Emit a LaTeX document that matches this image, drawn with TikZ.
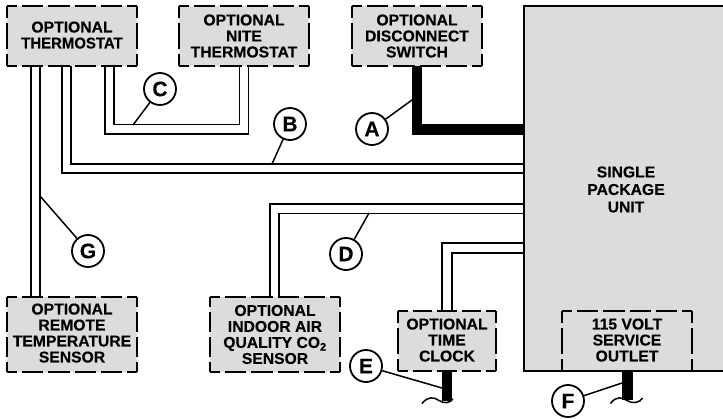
\documentclass[tikz,border=0pt]{standalone}
\usepackage{fontspec}
\setmainfont[BoldFeatures={FakeBold=0.25}]{Liberation Sans}
\definecolor{boxgray}{HTML}{DCDCDC}
\tikzset{
  x=1pt,y=-1pt,
  wire/.style={line width=1.5pt,draw=black},
  power/.style={line width=10.5pt,draw=black},
  leader/.style={line width=1.5pt,draw=black},
  tagc/.style={circle,draw=black,fill=white,line width=1.8pt,minimum size=32pt,inner sep=0pt,font=\fontsize{21}{21}\selectfont\bfseries},
  optbox/.style={fill=boxgray,inner sep=0pt,align=center,font=\fontsize{15.7}{16}\selectfont\bfseries},
  outletbox/.style={inner sep=0pt,align=center,font=\fontsize{15.7}{16}\selectfont\bfseries},
}
% one side of a dashed box: whole number of dashes, half a dash at each corner
\newcommand{\dashside}[2]{%
  \path (#1); \pgfgetlastxy{\ax}{\ay}%
  \path (#2); \pgfgetlastxy{\bx}{\by}%
  \pgfmathsetmacro{\sidelen}{veclen(\bx-\ax,\by-\ay)}%
  \pgfmathsetmacro{\sidenum}{max(1,round(\sidelen/26))}%
  \pgfmathsetmacro{\sideper}{\sidelen/\sidenum}%
  \pgfmathsetmacro{\sideon}{\sideper-5}%
  \pgfmathsetmacro{\sidehalf}{\sideon/2}%
  \draw[line width=2.2pt,line cap=butt,dash pattern=on \sideon pt off 5pt,dash phase=\sidehalf pt] (#1) -- (#2);}
\newcommand{\dashframe}[1]{%
  \dashside{#1.north west}{#1.north east}%
  \dashside{#1.north east}{#1.south east}%
  \dashside{#1.south east}{#1.south west}%
  \dashside{#1.south west}{#1.north west}}
\begin{document}
\begin{tikzpicture}
\useasboundingbox (0,0) rectangle (723,418);
% main unit
\fill[boxgray] (524,6) rectangle (723,371);
\coordinate (unitNW) at (524,6);
\coordinate (unitNE) at (723,6);
\coordinate (unitSW) at (524,371);
\coordinate (unitSE) at (723,371);
\node[inner sep=0pt,align=center,font=\fontsize{15.7}{17.5}\selectfont\bfseries] (unit) at (626,189.5) {SINGLE\\PACKAGE\\UNIT};
% boxes
\node[optbox,text depth=2pt,minimum width=130pt,minimum height=60pt] (therm) at (72,36) {OPTIONAL\\\scalebox{.95}[1]{THERMOSTAT}};
\node[optbox,minimum width=130pt,minimum height=60pt] (nite) at (244,36) {OPTIONAL\\NITE\\THERMOSTAT};
\node[optbox,minimum width=130pt,minimum height=60pt] (disc) at (417,36) {OPTIONAL\\DISCONNECT\\SWITCH};
\node[optbox,text depth=3pt,minimum width=130pt,minimum height=75pt] (remote) at (72,334.5) {OPTIONAL\\REMOTE\\TEMPERATURE\\SENSOR};
\node[optbox,minimum width=130pt,minimum height=75pt] (iaq) at (275,334.5) {OPTIONAL\\INDOOR AIR\\QUALITY CO\textsubscript{2}\\SENSOR};
\node[optbox,text depth=2pt,minimum width=98pt,minimum height=60pt] (clock) at (447,341) {OPTIONAL\\TIME\\CLOCK};
\node[outletbox,text depth=2pt,minimum width=130pt,minimum height=60pt] (outlet) at (627,341) {115 VOLT\\SERVICE\\OUTLET};
% wires
\draw[wire] (therm.south -| 31,0) -- (remote.north -| 31,0);
\draw[wire] (therm.south -| 40,0) -- (remote.north -| 40,0);
\draw[wire] (therm.south -| 62,0) |- (unitSW |- 0,173);
\draw[wire] (therm.south -| 71,0) |- (unitSW |- 0,164);
\draw[wire] (therm.south -| 105,0) |- (248.5,134) -- (nite.south -| 248.5,0);
\draw[wire] (therm.south -| 114,0) |- (239.5,124.5) -- (nite.south -| 239.5,0);
\draw[wire] (iaq.north -| 270,0) |- (unitSW |- 0,204);
\draw[wire] (iaq.north -| 279,0) |- (unitSW |- 0,213.5);
\draw[wire] (clock.north -| 442,0) |- (unitSW |- 0,243);
\draw[wire] (clock.north -| 452,0) |- (unitSW |- 0,253);
\draw[power] (disc.south) |- (unitSW |- 0,129.5);
% supply stubs
\coordinate (stubE) at (447,401);
\coordinate (stubF) at (627.5,400);
\draw[power] (clock.south -| stubE) -- (stubE);
\draw[power] (outlet.south -| stubF) -- (stubF);
\draw[line width=1.5pt] (422,403.5) .. controls (428,396) and (434,397) .. (439,400.5) .. controls (444,404) and (450,403) .. (453,399);
\draw[line width=1.5pt] (610.5,403.5) .. controls (616,396) and (622,397) .. (627,400.5) .. controls (632,404) and (640,403) .. (642.5,398);
% unit outline
\draw[line width=2.2pt] (unitNE) -- (unitNW) -- (unitSW) -- (unitSE);
% dashed frames
\dashframe{therm}\dashframe{nite}\dashframe{disc}\dashframe{remote}\dashframe{iaq}\dashframe{clock}\dashframe{outlet}
% tags
\node[tagc] (tagA) at (372,129) {A};
\node[tagc] (tagB) at (290,124) {B};
\node[tagc] (tagC) at (160,89) {C};
\node[tagc] (tagD) at (346,254) {D};
\node[tagc] (tagE) at (366,366) {E};
\node[tagc] (tagF) at (568,401) {F};
\node[tagc] (tagG) at (88,251) {G};
\coordinate (endA) at (412,100);
\coordinate (endB) at (272,164);
\coordinate (endC) at (133,125);
\coordinate (endD) at (369,213);
\coordinate (endE) at (442,388);
\coordinate (endF) at (622,383);
\coordinate (endG) at (40,196);
\draw[leader] (tagA) -- (endA);
\draw[leader] (tagB) -- (endB);
\draw[leader] (tagC) -- (endC);
\draw[leader] (tagD) -- (endD);
\draw[leader] (tagE) -- (endE);
\draw[leader] (tagF) -- (endF);
\draw[leader] (tagG) -- (endG);
\end{tikzpicture}
\end{document}
